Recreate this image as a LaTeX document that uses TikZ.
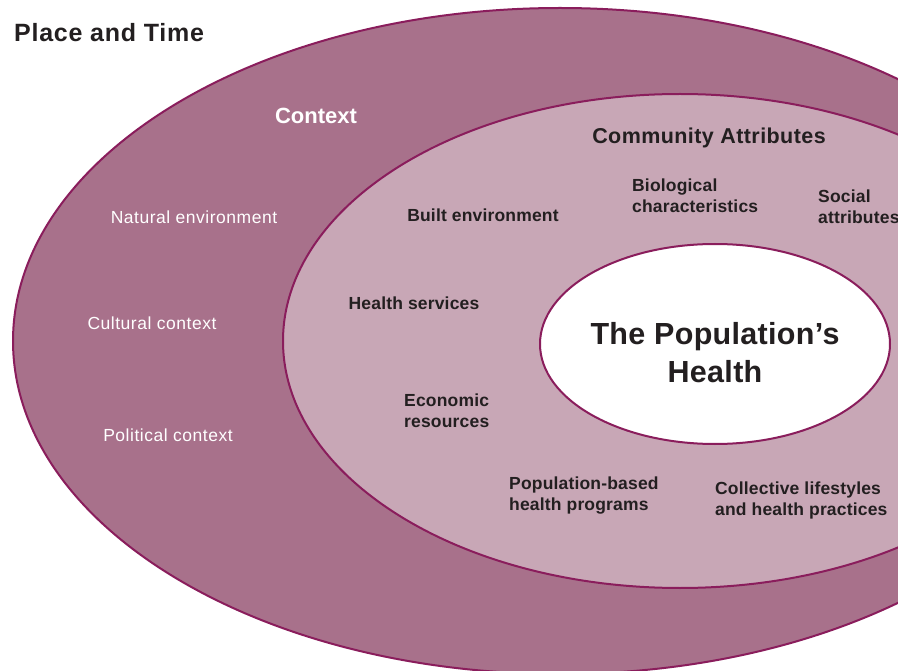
\documentclass[tikz,border=0pt]{standalone}
\usepackage{fontspec}
\setmainfont{Liberation Sans}
\definecolor{outerfill}{HTML}{A8718B}
\definecolor{innerfill}{HTML}{C8A7B6}
\definecolor{rim}{HTML}{8A1D5C}
\definecolor{ink}{HTML}{231F20}
\begin{document}
\begin{tikzpicture}[x=1pt,y=-1pt,
  ring/.style={draw=rim, line width=2pt},
  ctx/.style={text=white, inner sep=0pt, font=\addfontfeature{LetterSpace=3}\fontsize{17.5}{21}\selectfont},
  attr/.style={text=ink, inner sep=0pt, align=left, font=\addfontfeature{LetterSpace=1}\bfseries\fontsize{17.5}{21}\selectfont},
  head/.style={inner sep=0pt, font=\bfseries\fontsize{22}{26}\selectfont}]
\useasboundingbox (0,0) rectangle (898,671);
\clip (0,0) rectangle (898,671);
\fill[white] (0,0) rectangle (898,671);
\draw[ring, fill=outerfill] (560,341) ellipse [x radius=547, y radius=333];
\draw[ring, fill=innerfill] (680,341) ellipse [x radius=397, y radius=247];
\draw[ring, fill=white] (715,344) ellipse [x radius=175, y radius=100];

\node[head, text=ink, anchor=west, font=\addfontfeature{LetterSpace=3}\bfseries\fontsize{25}{29}\selectfont] (place) at (14,33) {Place and Time};
\node[head, text=white] (context) at (316,116) {Context};
\node[ctx] (natural) at (194,217) {Natural environment};
\node[ctx] (cultural) at (152,323) {Cultural context};
\node[ctx] (political) at (168,435) {Political context};

\node[head, text=ink, font=\addfontfeature{LetterSpace=2}\bfseries\fontsize{21.5}{25}\selectfont] (community) at (709,137.5) {Community Attributes};
\node[attr] (built) at (483,215) {Built environment};
\node[attr, anchor=west] (bio) at (632,195.5) {Biological\\characteristics};
\node[attr, anchor=west] (social) at (818,206.5) {Social\\attributes};
\node[attr] (health) at (414,303) {Health services};
\node[attr, anchor=west] (econ) at (404,410.5) {Economic\\resources};
\node[attr, anchor=west] (popprog) at (509,496) {Population-based\\health programs};
\node[attr, anchor=west] (lifestyle) at (715,500.5) {Collective lifestyles\\and health practices};

\node[text=ink, inner sep=0pt, align=center, font=\addfontfeature{LetterSpace=1}\bfseries\fontsize{30.5}{38}\selectfont] (pophealth) at (715,353) {The Population’s\\Health};
\end{tikzpicture}
\end{document}
